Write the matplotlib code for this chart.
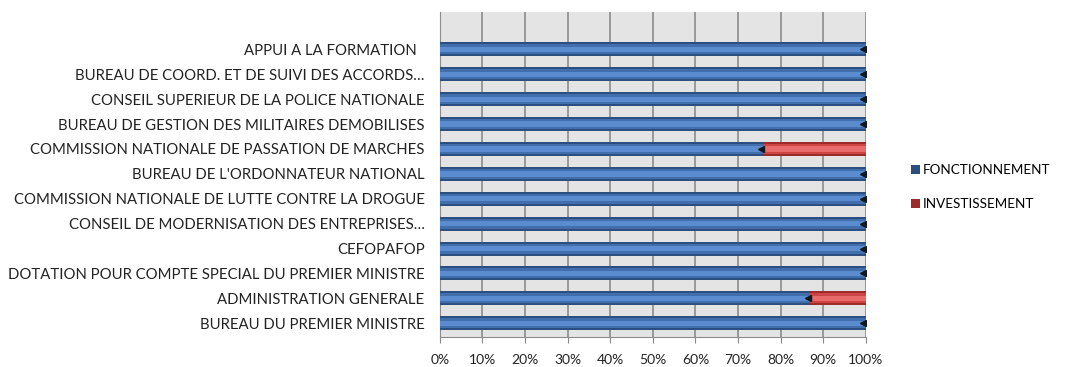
import matplotlib.pyplot as plt
import numpy as np

# categories listed bottom to top (as drawn)
categories = [
    "BUREAU DU PREMIER MINISTRE",
    "ADMINISTRATION GENERALE",
    "DOTATION POUR COMPTE SPECIAL DU PREMIER MINISTRE",
    "CEFOPAFOP",
    "CONSEIL DE MODERNISATION DES ENTREPRISES…",
    "COMMISSION NATIONALE DE LUTTE CONTRE LA DROGUE",
    "BUREAU DE L'ORDONNATEUR NATIONAL",
    "COMMISSION NATIONALE DE PASSATION DE MARCHES",
    "BUREAU DE GESTION DES MILITAIRES DEMOBILISES",
    "CONSEIL SUPERIEUR DE LA POLICE NATIONALE",
    "BUREAU DE COORD. ET DE SUIVI DES ACCORDS…",
    "APPUI A LA FORMATION  ",
]
fonctionnement = [100, 87, 100, 100, 100, 100, 100, 76, 100, 100, 100, 100]
investissement = [0, 13, 0, 0, 0, 0, 0, 24, 0, 0, 0, 0]
xticks = [0, 10, 20, 30, 40, 50, 60, 70, 80, 90, 100]

plt.rcParams['font.family'] = ['Lato', 'DejaVu Sans']

fig = plt.figure(figsize=(10.65, 3.67), dpi=100)
ax = fig.add_axes([0.413, 0.082, 0.400, 0.885])

y = np.arange(len(categories))
h = 0.56
f = np.array(fonctionnement)
inv = np.array(investissement)
mask = inv > 0

ax.set_facecolor('#e4e4e4')

# layered bars to mimic the bevelled look
blues = ['#2c4f80', '#416fae', '#5a8ccf']
reds = ['#9e2a2a', '#cc4444', '#e86a6a']
scales = [1.0, 0.72, 0.38]
for i, (cb, cr, s) in enumerate(zip(blues, reds, scales)):
    ax.barh(y, f, height=h * s, color=cb, zorder=3 + i,
            label='FONCTIONNEMENT' if i == 0 else None)
    ax.barh(y[mask], inv[mask], left=f[mask], height=h * s, color=cr, zorder=3 + i,
            label='INVESTISSEMENT' if i == 0 else None)
# dark tip at the end of each blue bar
ax.plot(f - 0.6, y, linestyle='none', marker='<', markersize=5, color='#101820', zorder=7)

ax.set_xlim(0, 100)
ax.set_ylim(-0.55, len(categories) + 0.5)
ax.set_xticks(xticks)
ax.set_xticklabels([f"{t}%" for t in xticks], fontsize=10, color='#222222')
ax.set_yticks(y)
ax.set_yticklabels(categories, fontsize=10.7, color='#222222')
ax.tick_params(axis='y', length=0, pad=11)
ax.tick_params(axis='x', length=4, color='#888888', pad=8)

ax.grid(axis='x', color='#8c8c8c', linewidth=1.2, zorder=1)
ax.set_axisbelow(True)
for side in ['top', 'right']:
    ax.spines[side].set_visible(False)
ax.spines['left'].set_color('#8c8c8c')
ax.spines['bottom'].set_color('#8c8c8c')

leg = fig.legend(loc='center left', bbox_to_anchor=(0.844, 0.49), frameon=False,
                 fontsize=9.7, handlelength=0.7, handleheight=0.7,
                 handletextpad=0.2, labelspacing=1.6)

fig.savefig('out.png', dpi=100)
